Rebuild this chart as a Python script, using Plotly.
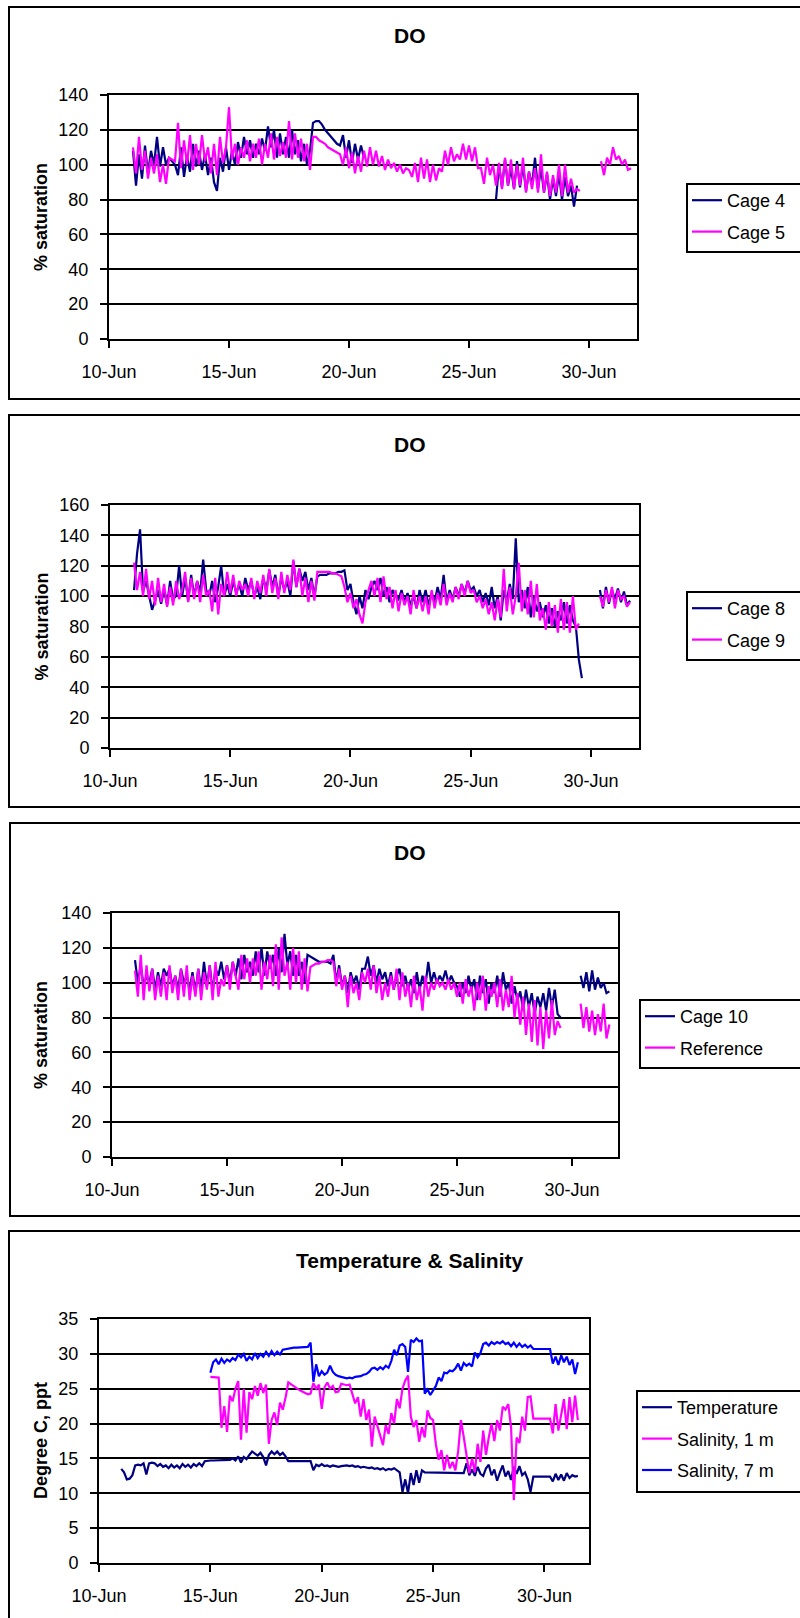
import datetime as dt
import plotly.graph_objects as go

# Logger readings, one value every 3 hours.  Each series is a list of
# (start day counted from 10-Jun 00:00, readings) blocks; the gaps between
# blocks are periods with no data.
BASE = dt.datetime(2006, 6, 10)
STEP_DAYS = 0.125

cage4 = [
    (1.0, [108, 88, 106, 92, 111, 95, 108, 100,
           116, 99, 110, 100, 104, 102, 100, 94,
           110, 93, 105, 96, 112, 99, 108, 97,
           106, 94, 104, 90, 85, 104, 96, 110,
           97, 108, 100, 113, 104, 116, 106, 114,
           104, 112, 106, 115, 108, 122, 110, 120,
           104, 118, 106, 116, 104, 120, 106, 114,
           102, 112, 100, 108, 124, 125, 125, 123,
           120, 118, 116, 114, 112, 111, 117, 104,
           114, 101, 112, 103, 111, 104]),
    (16.125, [80, 100, 87, 103, 88, 98, 86,
              102, 87, 100, 85, 96, 88, 104, 86,
              98, 84, 95, 80, 92, 82, 95, 80,
              93, 82, 88, 76, 88]),
]

cage5 = [
    (1.0, [110, 95, 116, 97, 108, 92, 104, 95,
           106, 90, 100, 89, 104, 103, 102, 124,
           98, 114, 100, 117, 97, 112, 100, 117,
           102, 110, 95, 112, 94, 116, 101, 110,
           133, 103, 112, 100, 110, 104, 114, 102,
           112, 104, 115, 100, 112, 104, 118, 103,
           116, 105, 113, 104, 125, 103, 118, 104,
           115, 102, 112, 97, 116, 116, 114, 113,
           112, 110, 109, 108, 107, 106, 100, 110,
           98, 107, 95, 105, 96, 108, 99, 110,
           100, 108, 99, 105, 97, 103, 98, 101,
           96, 100, 95, 98, 97, 93, 101, 90,
           104, 92, 103, 90, 100, 91, 98, 96,
           108, 100, 110, 102, 106, 103, 112, 103,
           111, 102, 110, 98, 98, 89, 104, 94,
           100, 88, 101, 86, 104, 88, 103, 86,
           100, 88, 104, 84, 96, 86, 98, 84,
           106, 84, 96, 82, 94, 84, 100, 82,
           100, 84, 92, 84, 86, 85]),
    (20.5, [102, 94, 104, 100, 110, 103, 105, 100, 103, 97, 98]),
]

cage8 = [
    (1.0, [104, 128, 144, 103, 110, 100, 91, 97,
           104, 95, 104, 94, 110, 98, 100, 120,
           100, 112, 97, 114, 100, 110, 102, 124,
           104, 100, 110, 96, 106, 120, 100, 108,
           100, 110, 102, 108, 100, 112, 104, 110,
           100, 106, 98, 112, 104, 117, 106, 114,
           100, 112, 104, 110, 100, 123, 106, 118,
           110, 116, 104, 112, 100, 113, 114, 114,
           114, 115, 115, 115, 116, 116, 117, 104,
           108, 96, 88, 100, 92, 104, 98, 106,
           110, 104, 112, 100, 106, 96, 104, 100,
           98, 104, 96, 102, 94, 100, 92, 104,
           96, 104, 94, 102, 96, 106, 98, 114,
           96, 104, 98, 106, 100, 108, 102, 110,
           104, 106, 100, 104, 96, 102, 94, 106,
           92, 100, 84, 104, 96, 108, 98, 138,
           96, 104, 92, 106, 86, 100, 90, 96,
           86, 94, 82, 92, 80, 90, 84, 96,
           82, 94, 84, 80, 58, 46]),
    (20.375, [104, 92, 106, 95, 104, 98, 105, 96, 103, 94, 97]),
]

cage9 = [
    (1.0, [122, 104, 116, 100, 118, 98, 110, 94,
           112, 96, 108, 93, 106, 94, 110, 98,
           104, 116, 96, 112, 98, 110, 96, 114,
           100, 104, 90, 112, 88, 108, 100, 116,
           102, 114, 100, 110, 104, 108, 100, 112,
           98, 110, 102, 114, 100, 118, 102, 112,
           98, 116, 102, 114, 104, 124, 106, 118,
           100, 112, 96, 110, 97, 116, 116, 116,
           116, 116, 115, 115, 114, 113, 106, 96,
           102, 92, 98, 88, 82, 96, 104, 110,
           100, 112, 96, 113, 98, 106, 92, 104,
           90, 102, 94, 100, 88, 104, 92, 100,
           90, 100, 88, 104, 92, 102, 94, 108,
           94, 102, 96, 106, 98, 108, 100, 110,
           102, 104, 96, 100, 92, 98, 88, 96,
           84, 98, 86, 118, 90, 106, 88, 100,
           122, 90, 104, 88, 110, 86, 108, 84,
           92, 78, 96, 80, 94, 76, 98, 78,
           96, 76, 100, 78, 82]),
    (20.375, [100, 93, 104, 96, 106, 92, 104, 98, 100, 93, 96]),
]

cage10 = [
    (1.0, [113, 100, 110, 98, 104, 100, 108, 96,
           106, 98, 108, 104, 108, 98, 104, 96,
           108, 100, 104, 96, 106, 94, 108, 96,
           112, 98, 110, 95, 108, 104, 112, 102,
           110, 100, 112, 104, 114, 102, 116, 106,
           112, 104, 118, 106, 120, 104, 118, 108,
           116, 104, 120, 106, 128, 110, 118, 104,
           116, 104, 112, 100, 116, 115, 114, 113,
           112, 112, 112, 112, 111, 116, 100, 110,
           98, 104, 94, 106, 100, 104, 96, 108,
           108, 115, 104, 110, 100, 108, 102, 106,
           98, 106, 96, 104, 108, 98, 104, 96,
           102, 94, 106, 96, 104, 98, 112, 100,
           106, 100, 104, 101, 107, 100, 104, 100,
           98, 92, 100, 94, 104, 96, 102, 90,
           104, 94, 102, 88, 100, 94, 104, 92,
           106, 96, 100, 88, 98, 90, 95, 84,
           96, 86, 94, 82, 92, 86, 94, 84,
           97, 86, 96, 82, 80]),
    (20.375, [104, 97, 106, 95, 107, 96, 103, 97, 100, 94, 95]),
]

reference = [
    (1.0, [107, 92, 116, 90, 110, 95, 108, 90,
           104, 92, 106, 90, 110, 94, 104, 90,
           108, 92, 110, 90, 104, 92, 108, 90,
           106, 96, 110, 90, 112, 92, 102, 98,
           110, 96, 112, 104, 96, 116, 102, 114,
           100, 114, 104, 118, 96, 112, 102, 116,
           98, 122, 96, 126, 104, 112, 96, 120,
           100, 118, 96, 114, 95, 109, 110, 111,
           111, 112, 112, 113, 113, 112, 98, 108,
           96, 104, 86, 104, 94, 100, 90, 106,
           100, 108, 96, 110, 94, 104, 90, 100,
           92, 104, 96, 108, 90, 106, 92, 100,
           86, 104, 90, 98, 84, 104, 92, 100,
           96, 102, 98, 100, 96, 102, 96, 100,
           92, 100, 88, 102, 92, 98, 84, 100,
           90, 104, 84, 98, 92, 100, 86, 102,
           84, 96, 86, 104, 80, 94, 76, 92,
           70, 88, 66, 90, 64, 86, 62, 84,
           68, 90, 70, 78, 74]),
    (20.375, [88, 74, 86, 72, 84, 70, 82, 72, 88, 68, 76]),
]

temperature = [
    (1.0, [13.5, 13.0, 12.0, 12.1, 12.6, 14.0, 14.1, 14.0,
           14.3, 12.7, 14.3, 14.4, 14.3, 13.9, 14.2, 13.8,
           14.0, 13.6, 14.1, 13.7, 14.0, 13.6, 14.2, 13.8,
           14.1, 13.7, 14.2, 13.9, 14.3, 13.9, 14.6, 14.7,
           14.7, 14.7, 14.7, 14.7, 14.7, 14.7, 14.7, 14.8,
           15.0, 14.7, 15.3, 14.4, 15.2, 14.9, 15.5, 16.0,
           15.7, 15.4, 15.8, 15.2, 14.0, 15.5, 16.0, 15.6,
           16.0, 15.5, 15.8, 15.3, 14.6, 14.6, 14.6, 14.6,
           14.6, 14.6, 14.6, 14.6, 14.6, 13.3, 14.1, 13.9,
           14.2, 13.9, 14.0, 13.8, 14.0, 13.9, 13.8, 13.9,
           14.0, 14.0, 13.9, 14.0, 13.8, 13.9, 13.7, 13.8,
           13.7, 13.6, 13.7, 13.5, 13.6, 13.4, 13.6, 13.3,
           13.5, 13.4, 13.6, 13.3, 13.0, 10.2, 12.0, 10.0,
           12.9, 11.2, 13.3, 11.5, 13.3, 13.0, 13.0, 13.0,
           12.9, 13.0, 12.9, 12.9, 13.0, 12.9, 12.9, 12.9,
           12.9, 12.9, 12.9, 12.9, 14.3, 12.6, 13.4, 12.5,
           13.8, 12.8, 12.5, 13.6, 14.1, 12.6, 13.4, 11.8,
           13.0, 14.0, 12.4, 13.2, 11.9, 13.8, 12.8, 13.9,
           12.6, 13.0, 12.0, 10.2, 12.4, 12.4, 12.4, 12.4,
           12.4, 12.4, 12.4, 11.7, 12.8, 11.9, 12.7, 11.8,
           12.9, 12.2, 12.6, 12.4, 12.5]),
]

salinity_1m = [
    (5.0, [26.7, 26.7, 26.7, 26.6, 19.4, 22.5, 18.8, 24.0,
           23.2, 25.0, 26.1, 17.7, 25.0, 18.7, 24.5, 23.5,
           25.4, 24.0, 25.8, 24.4, 25.6, 17.1, 20.5, 21.6,
           19.8, 23.0, 22.0, 23.7, 25.9, 25.6, 25.3, 25.0,
           24.8, 24.6, 24.4, 24.2, 24.3, 25.8, 25.0, 25.6,
           22.1, 25.2, 25.9, 25.0, 25.4, 24.5, 24.6, 25.7,
           25.6, 25.5, 25.6, 24.3, 22.9, 23.8, 21.0, 23.5,
           20.5, 22.0, 16.7, 21.0, 19.5, 18.0, 16.9, 19.8,
           18.5, 21.5, 20.0, 23.5, 22.2, 25.0, 26.2, 26.9,
           21.0, 19.5, 20.5, 17.4, 19.5, 18.0, 21.9, 20.8,
           20.5, 17.0, 14.8, 16.2, 13.3, 15.5, 13.6, 14.5,
           13.3, 16.0, 20.5, 18.1, 15.7, 12.9, 15.0, 13.0,
           17.1, 14.5, 19.0, 15.5, 18.0, 20.0, 17.5, 20.5,
           19.0, 22.4, 22.0, 22.8, 19.5, 9.0, 18.0, 17.2,
           21.0, 19.0, 23.8, 23.9, 20.7, 20.7, 20.7, 20.7,
           20.7, 20.7, 20.7, 18.6, 22.8, 19.0, 21.5, 23.5,
           19.2, 23.8, 20.2, 24.0, 20.5]),
]

salinity_7m = [
    (5.0, [27.3, 28.8, 29.2, 28.5, 29.3, 28.7, 29.2, 28.9,
           29.4, 29.1, 29.9, 29.5, 30.0, 29.0, 29.6, 29.2,
           30.1, 29.4, 30.0, 29.6, 30.3, 29.7, 30.4, 29.8,
           30.3, 29.9, 30.6, 30.7, 30.8, 30.8, 30.9, 30.9,
           30.9, 31.0, 31.0, 31.0, 31.6, 26.0, 28.5, 26.8,
           27.5, 27.0, 27.3, 28.3, 27.4, 27.0, 26.8, 26.7,
           26.6, 26.5, 26.6, 26.5, 26.7, 26.7, 26.8, 27.0,
           27.1, 27.4, 27.9, 28.0, 27.7, 28.1, 27.8, 28.3,
           28.0, 29.0, 30.6, 29.8, 31.2, 31.4, 31.0, 27.4,
           32.0, 31.7, 32.2, 31.8, 31.9, 24.3, 24.9, 24.1,
           24.8, 25.4, 26.6, 26.1, 27.3, 27.2, 27.6, 27.5,
           27.9, 28.6, 27.6, 28.7, 28.3, 28.6, 28.2, 30.2,
           29.5, 30.1, 31.4, 31.6, 31.2, 31.7, 31.4, 31.7,
           31.5, 31.8, 31.4, 31.6, 31.1, 31.6, 31.0, 31.5,
           31.0, 31.3, 30.9, 31.2, 30.7, 30.7, 30.7, 30.7,
           30.7, 30.7, 30.7, 28.6, 29.6, 28.4, 29.8, 28.8,
           29.6, 28.4, 29.2, 27.1, 28.8]),
]

NAVY = "#000080"
MAGENTA = "#FF00FF"
BLUE = "#0000FF"
FONT = "Arial, Liberation Sans, sans-serif"
W, H = 800, 1618


def to_xy(blocks):
    xs, ys = [], []
    for k, (start, vals) in enumerate(blocks):
        if k:
            xs.append(xs[-1] + dt.timedelta(days=STEP_DAYS))
            ys.append(None)
        for i, v in enumerate(vals):
            xs.append(BASE + dt.timedelta(days=start + i * STEP_DAYS))
            ys.append(v)
    return xs, ys


def px_x(p):
    return p / W


def px_y(p):
    return 1 - p / H


# panel layout in pixels: plot area, outer frame, legend frame (left, top, bottom)
panels = [
    dict(title="DO", ytitle="% saturation", ymax=140, dtick=20,
         px=(109, 637), py=(95, 339), frame=(9, 7, 399),
         legend=(687, 184, 252),
         series=[("Cage 4", cage4, NAVY), ("Cage 5", cage5, MAGENTA)]),
    dict(title="DO", ytitle="% saturation", ymax=160, dtick=20,
         px=(110, 639), py=(505, 748), frame=(9, 415, 807),
         legend=(687, 592, 660),
         series=[("Cage 8", cage8, NAVY), ("Cage 9", cage9, MAGENTA)]),
    dict(title="DO", ytitle="% saturation", ymax=140, dtick=20,
         px=(112, 618), py=(913, 1157), frame=(10, 823, 1216),
         legend=(640, 1000, 1068),
         series=[("Cage 10", cage10, NAVY), ("Reference", reference, MAGENTA)]),
    dict(title="Temperature & Salinity", ytitle="Degree C, ppt", ymax=35, dtick=5,
         px=(99, 589), py=(1319, 1563), frame=(9, 1231, 1660),
         legend=(637, 1391, 1492),
         series=[("Temperature", temperature, NAVY),
                 ("Salinity, 1 m", salinity_1m, MAGENTA),
                 ("Salinity, 7 m", salinity_7m, BLUE)]),
]

fig = go.Figure()
layout = dict(width=W, height=H,
              margin=dict(l=0, r=0, t=0, b=0, autoexpand=False),
              paper_bgcolor="white", plot_bgcolor="white",
              font=dict(family=FONT, size=18, color="black"),
              shapes=[], annotations=[])

x_end = BASE + dt.timedelta(days=22)
for n, p in enumerate(panels, start=1):
    sfx = "" if n == 1 else str(n)
    leg = "legend" if n == 1 else f"legend{n}"
    for name, blocks, color in p["series"]:
        xs, ys = to_xy(blocks)
        fig.add_trace(go.Scatter(
            x=xs, y=ys, mode="lines", name=name,
            line=dict(color=color, width=2.2),
            xaxis=f"x{sfx}", yaxis=f"y{sfx}",
            legend=leg, legendgroup=f"{n}-{name}",
            connectgaps=False, hoverinfo="skip"))

    layout[f"xaxis{sfx}"] = dict(
        domain=[px_x(p["px"][0]), px_x(p["px"][1])], anchor=f"y{sfx}",
        type="date", range=[BASE, x_end], tick0=BASE, dtick=5 * 86400000,
        tickformat="%d-%b", ticks="outside", ticklen=7, tickwidth=2,
        tickcolor="black", showline=True, linewidth=2, linecolor="black",
        mirror=True, showgrid=False, zeroline=False,
        tickfont=dict(size=18, family=FONT, color="black"),
        ticklabelstandoff=8)
    layout[f"yaxis{sfx}"] = dict(
        domain=[px_y(p["py"][1]), px_y(p["py"][0])], anchor=f"x{sfx}",
        range=[0, p["ymax"]], dtick=p["dtick"], ticks="outside", ticklen=7,
        tickwidth=2, tickcolor="black", showline=True, linewidth=2,
        linecolor="black", mirror=True, showgrid=True, gridcolor="black",
        gridwidth=1.5, zeroline=False,
        tickfont=dict(size=18, family=FONT, color="black"),
        ticklabelstandoff=8)

    # legend entries sit inside a frame that runs off the right edge
    lx, ltop, lbot = p["legend"]
    layout[leg] = dict(
        x=px_x(lx), y=px_y(ltop - 2), xanchor="left", yanchor="top",
        borderwidth=0, bgcolor="rgba(0,0,0,0)",
        font=dict(size=18, family=FONT, color="black"),
        traceorder="grouped", tracegroupgap=5)
    layout["shapes"].append(dict(
        type="rect", xref="paper", yref="paper", x0=px_x(lx), x1=1.05,
        y0=px_y(lbot), y1=px_y(ltop), line=dict(color="black", width=2),
        fillcolor="white", layer="below"))

    fx, ftop, fbot = p["frame"]
    layout["shapes"].append(dict(
        type="rect", xref="paper", yref="paper", x0=px_x(fx), x1=1.05,
        y0=px_y(fbot), y1=px_y(ftop), line=dict(color="black", width=2),
        layer="below"))

    layout["annotations"].append(dict(
        text=p["title"], xref="paper", yref="paper", x=px_x(410),
        y=px_y(ftop + 29), xanchor="center", yanchor="middle", showarrow=False,
        font=dict(size=21, family=FONT, color="black", weight="bold")))
    layout["annotations"].append(dict(
        text=p["ytitle"], xref="paper", yref="paper", x=px_x(41),
        y=px_y((p["py"][0] + p["py"][1]) / 2), xanchor="center",
        yanchor="middle", textangle=-90, showarrow=False,
        font=dict(size=18, family=FONT, color="black", weight="bold")))

fig.update_layout(**layout)
# page body without the browser's default 8px inset
fig.write_html("out.html", post_script="document.body.style.margin = '0';")
